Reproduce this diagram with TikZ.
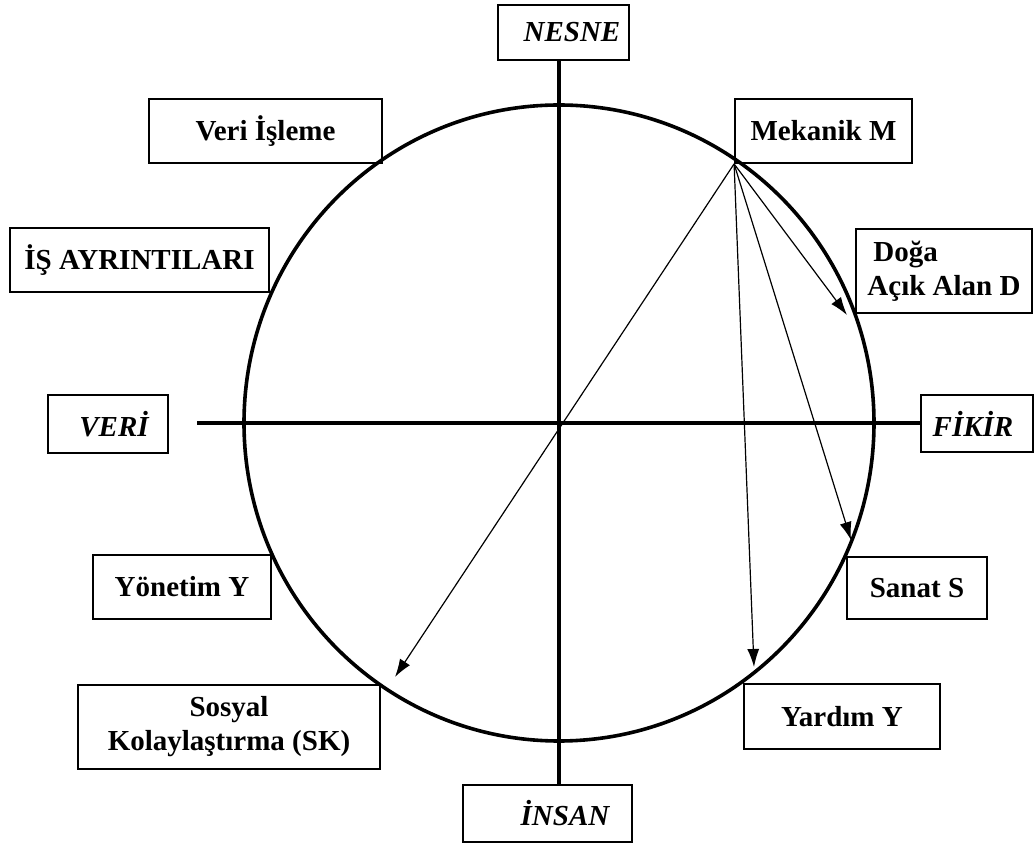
\documentclass[tikz,border=0pt]{standalone}
\usepackage{fontspec}
\setmainfont{Liberation Serif}
\usetikzlibrary{arrows.meta}

\tikzset{
	kutu/.style={draw, line width=0.9pt, inner sep=2pt, font=\fontsize{14.5}{17}\selectfont\bfseries},
	eksen/.style={kutu, font=\fontsize{14.5}{17}\selectfont\bfseries\itshape},
	ok/.style={line width=0.6pt, -{Latex[length=9pt,width=6pt]}}
}

\begin{document}
\begin{tikzpicture}[x=0.5pt, y=-0.5pt]
	\useasboundingbox (0,0) rectangle (1035,844);
	%circle
	\coordinate (merkez) at (559,423);
	\draw[line width=1.8pt] (merkez) ellipse [x radius=157.5pt, y radius=159pt];
	%axis boxes
	\node[eksen, minimum width=65.5pt, minimum height=27.5pt] (nesne) at (563.5,32.5) {\hspace*{8.5pt}NESNE};
	\node[eksen, minimum width=84.5pt, minimum height=28.5pt] (insan) at (547.5,813.5) {\hspace*{17.5pt}İNSAN};
	\node[eksen, minimum width=60pt, minimum height=29pt] (veri) at (108,424) {\hspace*{6pt}VERİ};
	\node[eksen, minimum width=56pt, minimum height=28.5pt] (fikir) at (977,423.5) {FİKİR\hspace*{4pt}};
	%axes
	\coordinate (bati) at (197,423.5);
	\draw[line width=2pt] (merkez |- nesne.south) -- (merkez |- insan.north)
		(bati) -- (fikir.west);
	%boxes
	\node[kutu, minimum width=116.5pt, minimum height=32pt] (veriisleme) at (265.5,131) {Veri İşleme};
	\node[kutu, minimum width=88.5pt, minimum height=32pt] (mekanik) at (823.5,131) {Mekanik M};
	\node[kutu, minimum width=129.5pt, minimum height=32pt] (ayrinti) at (139.5,260) {İŞ AYRINTILARI};
	\node[kutu, minimum width=88pt, minimum height=42pt, align=left] (doga) at (944,271) {\hspace*{3pt}Doğa\\Açık Alan D};
	\node[kutu, minimum width=89pt, minimum height=32pt] (yonetim) at (182,587) {Yönetim Y};
	\node[kutu, minimum width=70pt, minimum height=31pt] (sanat) at (917,588) {Sanat S};
	\node[kutu, minimum width=151pt, minimum height=42pt, align=center] (sosyal) at (229,727) {Sosyal\\Kolaylaştırma (SK)};
	\node[kutu, minimum width=98pt, minimum height=32.5pt] (yardim) at (842,716.5) {Yardım Y};
	%arrows
	\coordinate (d) at (847,315);
	\coordinate (s) at (851,540);
	\coordinate (y) at (754,667);
	\coordinate (sk) at (395,677);
	\foreach \uc in {d, s, y, sk}
		\draw[ok] (mekanik.south west) -- (\uc);
\end{tikzpicture}
\end{document}
